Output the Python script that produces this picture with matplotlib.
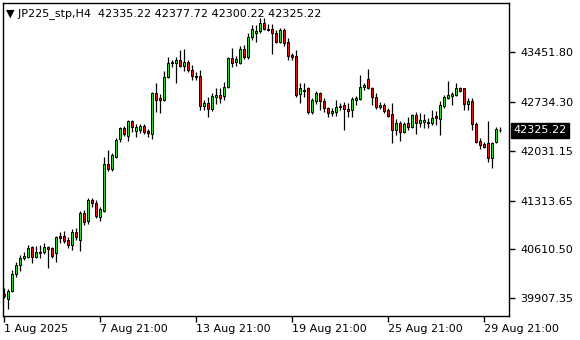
import matplotlib
matplotlib.use("Agg")
import matplotlib.pyplot as plt
import numpy as np

# JP225_stp H4 bars, 1 Aug 2025 .. 29 Aug 2025
opens = [39969, 39897, 40012, 40257, 40387, 40488, 40502, 40646, 40502, 40574,
         40574, 40646, 40632, 40560, 40805, 40805, 40747, 40675, 40862, 40747,
         41136, 41021, 41323, 41280, 41078, 41165, 41842, 41770, 41943, 42202,
         42361, 42246, 42462, 42318, 42332, 42390, 42318, 42274, 42865, 42793,
         42764, 43096, 43312, 43298, 43341, 43254, 43312, 43197, 43110, 43110,
         42678, 42721, 42635, 42808, 42836, 42822, 42952, 43370, 43312, 43298,
         43499, 43384, 43672, 43730, 43759, 43874, 43788, 43788, 43730, 43600,
         43773, 43600, 43413, 43398, 42851, 42909, 42937, 42591, 42750, 42865,
         42750, 42649, 42577, 42591, 42664, 42692, 42635, 42620, 42764, 42779,
         42952, 43067, 42937, 42808, 42664, 42692, 42620, 42563, 42332, 42433,
         42303, 42433, 42375, 42548, 42433, 42447, 42447, 42433, 42534, 42491,
         42678, 42793, 42822, 42836, 42937, 42937, 42707, 42750, 42419, 42174,
         42130, 42145, 41929, 42159, 42335.22]
highs = [40055, 40041, 40315, 40430, 40531, 40574, 40675, 40661, 40661, 40675,
         40704, 40661, 40646, 40805, 40862, 40877, 40790, 40906, 40920, 41165,
         41179, 41352, 41352, 41323, 41223, 41943, 42044, 42001, 42217, 42375,
         42390, 42476, 42476, 42419, 42419, 42419, 42347, 42880, 43009, 42851,
         43182, 43384, 43341, 43384, 43485, 43499, 43341, 43269, 43168, 43197,
         42764, 42808, 42865, 42937, 42937, 43024, 43384, 43514, 43398, 43543,
         43557, 43730, 43845, 43845, 43946, 43946, 43860, 43860, 43773, 43802,
         43802, 43658, 43442, 43485, 43009, 43009, 42952, 42793, 42894, 42880,
         42793, 42664, 42649, 42764, 42721, 42736, 42721, 42808, 42822, 43125,
         43009, 43211, 42952, 42865, 42736, 42721, 42649, 42721, 42491, 42462,
         42447, 42519, 42563, 42591, 42577, 42563, 42505, 42620, 42606, 42750,
         42836, 43038, 42880, 43009, 42952, 42937, 42793, 42793, 42447, 42217,
         42159, 42462, 42159, 42375, 42377.72]
lows = [39911, 39753, 39998, 40214, 40300, 40459, 40488, 40416, 40488, 40488,
        40545, 40344, 40488, 40430, 40704, 40704, 40632, 40603, 40747, 40588,
        40963, 40978, 41223, 41064, 41021, 41150, 41741, 41741, 41929, 42159,
        42246, 42174, 42303, 42231, 42289, 42274, 42231, 42202, 42591, 42577,
        42750, 43081, 43240, 43009, 43240, 43182, 43168, 43053, 43053, 42620,
        42620, 42519, 42606, 42707, 42721, 42764, 42937, 43240, 43254, 43283,
        43355, 43355, 43629, 43600, 43730, 43773, 43759, 43427, 43586, 43586,
        43543, 43341, 43341, 42808, 42721, 42808, 42563, 42563, 42707, 42620,
        42591, 42519, 42534, 42534, 42620, 42332, 42519, 42519, 42692, 42764,
        42909, 42923, 42692, 42635, 42635, 42577, 42519, 42145, 42260, 42174,
        42289, 42332, 42361, 42274, 42375, 42361, 42361, 42404, 42404, 42260,
        42649, 42779, 42692, 42822, 42880, 42620, 42620, 42332, 42145, 42058,
        42073, 41871, 41785, 42145, 42300.22]
closes = [39940, 40012, 40257, 40387, 40488, 40516, 40632, 40502, 40574, 40560,
          40646, 40617, 40516, 40790, 40776, 40733, 40675, 40862, 40790, 41136,
          41006, 41323, 41280, 41093, 41194, 41842, 41770, 41972, 42188, 42361,
          42274, 42462, 42375, 42375, 42390, 42303, 42289, 42865, 42764, 42764,
          43096, 43298, 43298, 43341, 43254, 43312, 43197, 43110, 43096, 42678,
          42721, 42635, 42822, 42836, 42793, 42952, 43370, 43298, 43355, 43499,
          43384, 43672, 43788, 43759, 43874, 43788, 43773, 43730, 43600, 43773,
          43586, 43398, 43384, 42836, 42937, 42894, 42591, 42764, 42865, 42750,
          42649, 42577, 42606, 42664, 42678, 42635, 42606, 42779, 42793, 42952,
          42981, 42937, 42808, 42664, 42692, 42606, 42534, 42332, 42433, 42303,
          42419, 42375, 42548, 42433, 42476, 42476, 42433, 42505, 42505, 42692,
          42808, 42836, 42851, 42937, 42894, 42707, 42750, 42419, 42159, 42116,
          42087, 41929, 42145, 42347, 42325.22]

price_ticks = [43451.80, 42734.30, 42031.15, 41313.65, 40610.50, 39907.35]
time_labels = ["1 Aug 2025", "7 Aug 21:00", "13 Aug 21:00", "19 Aug 21:00",
               "25 Aug 21:00", "29 Aug 21:00"]
time_label_bars = [0, 24, 48, 72, 96, 120]

o = np.array(opens); h = np.array(highs); l = np.array(lows); c = np.array(closes)
x = np.arange(len(o))
up = c >= o
colors = np.where(up, "#1ee01e", "#e01414")

fig = plt.figure(figsize=(5.8, 3.4), dpi=100)
ax = fig.add_axes([3 / 580, 24 / 340, 506 / 580, 313 / 340])

ax.vlines(x, l, h, color="black", linewidth=0.9, zorder=1)
body_lo = np.minimum(o, c)
body_h = np.maximum(np.abs(c - o), 1.0)
ax.bar(x, body_h, bottom=body_lo, width=0.58, color=colors,
       edgecolor="black", linewidth=0.7, zorder=2)

ax.set_xlim(-0.2, 126.3)
ax.set_ylim(39651.8, 44162.2)

for s in ax.spines.values():
    s.set_color("black")
    s.set_linewidth(1.0)

ax.yaxis.tick_right()
ax.set_yticks(price_ticks)
ax.set_yticklabels([f"{v:.2f}" for v in price_ticks])
ax.set_xticks(time_label_bars)
ax.set_xticklabels(time_labels, ha="left")
ax.tick_params(axis="both", direction="out", length=4, width=1,
               labelsize=8, colors="black", pad=2)
ax.tick_params(axis="y", pad=4)

# header line
ax.text(0.006, 0.985, "\u25bc JP225_stp,H4  42335.22 42377.72 42300.22 42325.22",
        transform=ax.transAxes, ha="left", va="top", fontsize=8, color="black")

# last price marker
ax.annotate(f"{closes[-1]:.2f}", xy=(1.0, closes[-1]), xycoords=("axes fraction", "data"),
            xytext=(3, 0), textcoords="offset points", ha="left", va="center",
            fontsize=8, color="white",
            bbox=dict(boxstyle="square,pad=0.2", fc="black", ec="black"))

fig.savefig("out.png", dpi=100, facecolor="white")
